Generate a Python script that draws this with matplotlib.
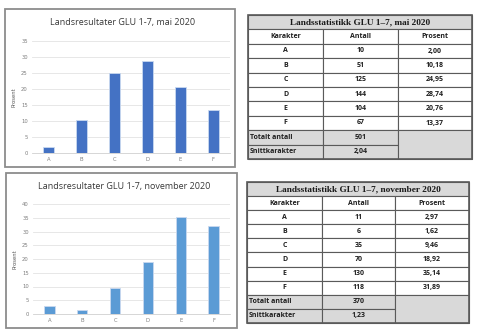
import matplotlib

matplotlib.use("Agg")
import matplotlib.pyplot as plt
from matplotlib.patches import Rectangle

grades = ["A", "B", "C", "D", "E", "F"]

mai_count = [10, 51, 125, 144, 104, 67]
mai_pct = [2.00, 10.18, 24.95, 28.74, 20.76, 13.37]
mai_total = 501
mai_avg = "2,04"

nov_count = [11, 6, 35, 70, 130, 118]
nov_pct = [2.97, 1.62, 9.46, 18.92, 35.14, 31.89]
nov_total = 370
nov_avg = "1,23"

W, H = 480, 335
fig = plt.figure(figsize=(W / 100, H / 100), dpi=100)
fig.patch.set_facecolor("white")

# overlay in pixel coordinates for frames and tables
bg = fig.add_axes([0, 0, 1, 1], zorder=0)
bg.set_xlim(0, W)
bg.set_ylim(H, 0)
bg.axis("off")

GRAY_FILL = "#d9d9d9"
EDGE = "#5a5a5a"


def px_axes(left, right, top, bottom):
    return fig.add_axes([left / W, (H - bottom) / H, (right - left) / W, (bottom - top) / H], zorder=2)


def bar_chart(frame, ax_box, values, color, ymax, title, title_y):
    x0, y0, x1, y1 = frame
    bg.add_patch(Rectangle((x0, y0), x1 - x0, y1 - y0, fill=False, ec="#8c8c8c", lw=1.3))
    ax = px_axes(*ax_box)
    ax.bar(range(len(grades)), values, width=0.31, color=color, edgecolor="#c9d9f0", linewidth=0.6, zorder=3)
    ax.set_xlim(-0.5, len(grades) - 0.5)
    ax.set_ylim(0, ymax)
    ax.set_yticks(range(0, ymax + 1, 5))
    ax.set_xticks(range(len(grades)), grades)
    ax.grid(axis="y", color="#e3e3e3", linewidth=0.6, zorder=0)
    for side in ["top", "right", "left"]:
        ax.spines[side].set_visible(False)
    ax.spines["bottom"].set_color("#d0d0d0")
    ax.spines["bottom"].set_linewidth(0.6)
    ax.tick_params(length=0, labelsize=3.8, labelcolor="#7f7f7f", pad=3)
    ax.set_ylabel("Prosent", fontsize=3.8, color="#595959", labelpad=3)
    ax.patch.set_alpha(0)
    bg.text((x0 + x1) / 2 + 3, title_y, title, ha="center", va="center",
            fontsize=6.5, color="#383838", family="Open Sans")


def stat_table(left, top, cols, row_h, title, counts, pcts, total, avg):
    c0, c1, c2, c3 = cols
    font = dict(family="Open Sans", fontweight="bold", color="#1f1f1f", fontsize=5.0)
    # title row
    bg.add_patch(Rectangle((c0, top), c3 - c0, row_h, fc=GRAY_FILL, ec=EDGE, lw=0.8))
    bg.text((c0 + c3) / 2, top + row_h / 2, title, ha="center", va="center",
            fontsize=6.7, fontweight="bold", family="Liberation Serif", color="#1a1a1a")
    rows = [("Karakter", "Antall", "Prosent")]
    rows += [(g, str(n), f"{p:.2f}".replace(".", ",")) for g, n, p in zip(grades, counts, pcts)]
    y = top + row_h
    for row in rows:
        for (a, b), txt in zip([(c0, c1), (c1, c2), (c2, c3)], row):
            bg.add_patch(Rectangle((a, y), b - a, row_h, fc="white", ec=EDGE, lw=0.8))
            bg.text((a + b) / 2, y + row_h / 2, txt, ha="center", va="center", **font)
        y += row_h
    for label, val in [("Totalt antall", str(total)), ("Snittkarakter", avg)]:
        bg.add_patch(Rectangle((c0, y), c1 - c0, row_h, fc=GRAY_FILL, ec=EDGE, lw=0.8))
        bg.add_patch(Rectangle((c1, y), c2 - c1, row_h, fc=GRAY_FILL, ec=EDGE, lw=0.8))
        bg.text(c0 + 2, y + row_h / 2, label, ha="left", va="center", **font)
        bg.text((c1 + c2) / 2, y + row_h / 2, val, ha="center", va="center", **font)
        y += row_h
    bg.add_patch(Rectangle((c2, y - 2 * row_h), c3 - c2, 2 * row_h, fc=GRAY_FILL, ec=EDGE, lw=0.8))
    bg.add_patch(Rectangle((c0, top), c3 - c0, y - top, fill=False, ec=EDGE, lw=1.2))


bar_chart((5, 9, 235, 166.5), (32, 230, 41, 153), mai_pct, "#4472c4", 35,
          "Landsresultater GLU 1-7, mai 2020", 22)
bar_chart((6, 173, 237, 328), (33, 230, 204, 314), nov_pct, "#5b9bd5", 40,
          "Landsresultater GLU 1-7, november 2020", 186)

stat_table(248, 15, (248, 323, 398, 472), 14.4, "Landsstatistikk GLU 1\u20137, mai 2020",
           mai_count, mai_pct, mai_total, mai_avg)
stat_table(247, 182, (247, 322, 395, 469), 14.1, "Landsstatistikk GLU 1\u20137, november 2020",
           nov_count, nov_pct, nov_total, nov_avg)

fig.savefig("out.png", dpi=100)
plt.close(fig)
